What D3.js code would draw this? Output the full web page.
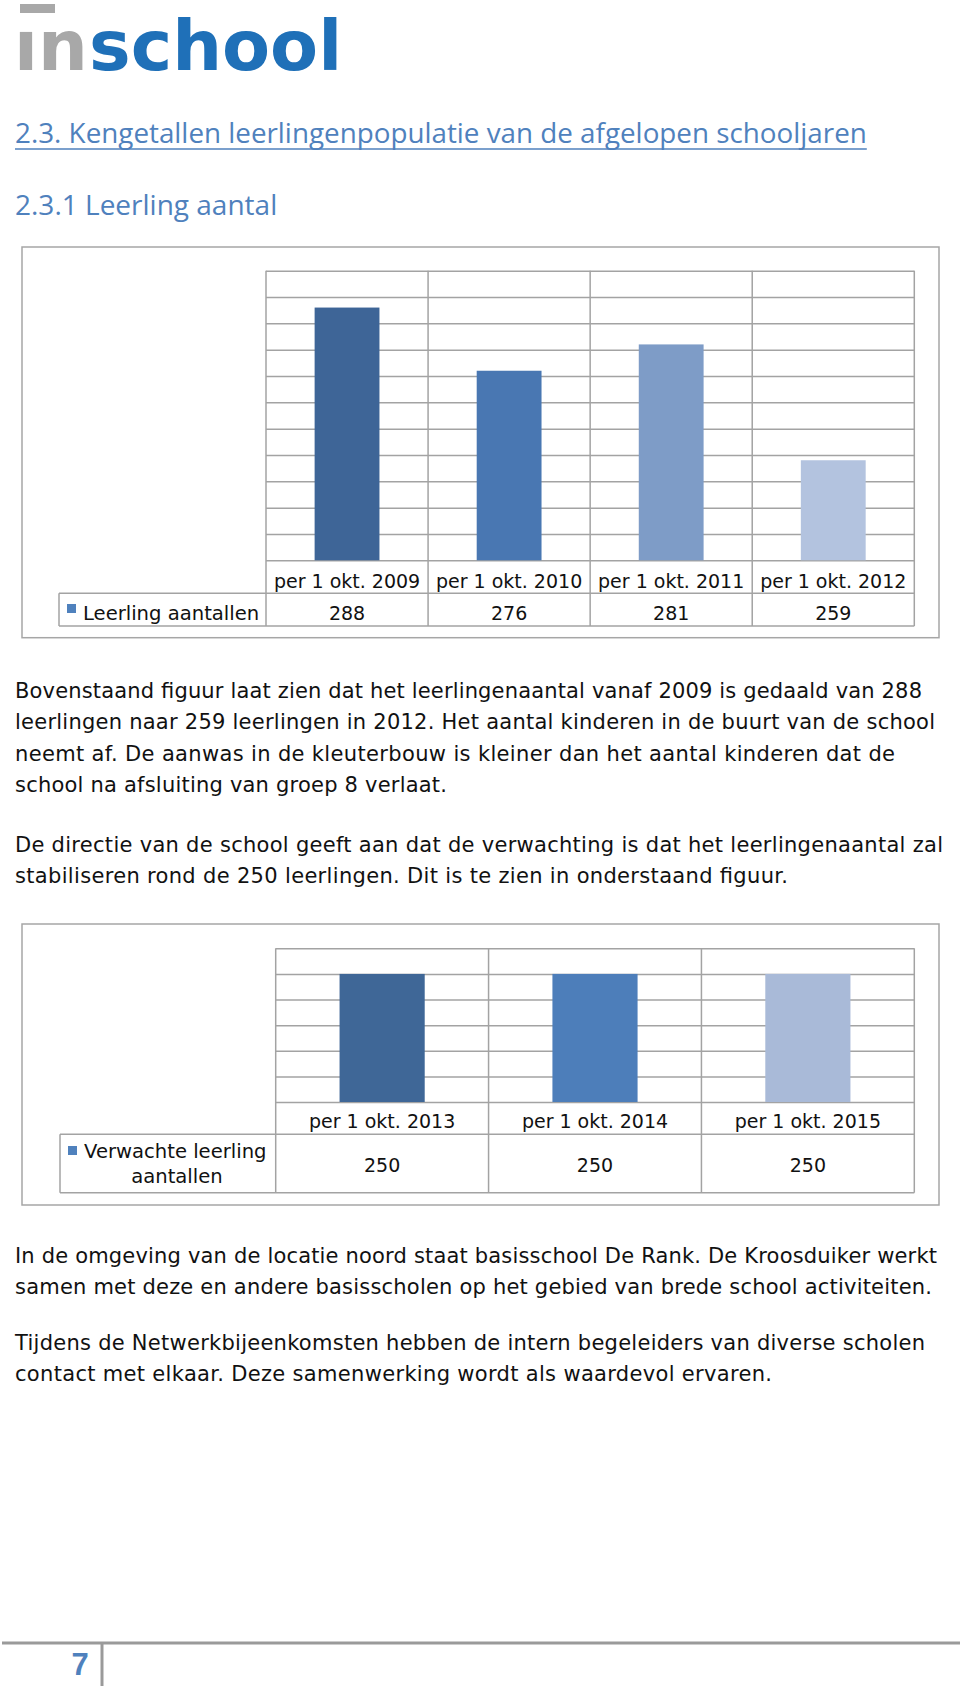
<!DOCTYPE html>
<html><head><meta charset="utf-8">
<script src="https://cdn.jsdelivr.net/npm/d3@7/dist/d3.min.js"></script>
<style>
html,body{margin:0;padding:0;background:#fff;}
svg{display:block;}
text{font-family:"DejaVu Sans",sans-serif;}
</style></head>
<body>
<svg id="page" width="960" height="1688"></svg>
<script>
// ---------- data ----------
const categories1 = ["per 1 okt. 2009", "per 1 okt. 2010", "per 1 okt. 2011", "per 1 okt. 2012"];
const values1 = [288, 276, 281, 259];
const series1 = "Leerling aantallen";
const colors1 = ["#3E6597", "#4977B2", "#7E9CC7", "#B3C3DF"];
const yDomain1 = [240, 295];

const categories2 = ["per 1 okt. 2013", "per 1 okt. 2014", "per 1 okt. 2015"];
const values2 = [250, 250, 250];
const series2 = ["Verwachte leerling", "aantallen"];
const colors2 = ["#3F6797", "#4D7EBA", "#A9BAD8"];
const yDomain2 = [0, 300];

const heading1 = "2.3. Kengetallen leerlingenpopulatie van de afgelopen schooljaren";
const heading2 = "2.3.1 Leerling aantal";
const para1 = [
  "Bovenstaand figuur laat zien dat het leerlingenaantal vanaf 2009 is gedaald van 288",
  "leerlingen naar 259 leerlingen in 2012. Het aantal kinderen in de buurt van de school",
  "neemt af. De aanwas in de kleuterbouw is kleiner dan het aantal kinderen dat de",
  "school na afsluiting van groep 8 verlaat."
];
const para2 = [
  "De directie van de school geeft aan dat de verwachting is dat het leerlingenaantal zal",
  "stabiliseren rond de 250 leerlingen. Dit is te zien in onderstaand figuur."
];
const para3 = [
  "In de omgeving van de locatie noord staat basisschool De Rank. De Kroosduiker werkt",
  "samen met deze en andere basisscholen op het gebied van brede school activiteiten."
];
const para4 = [
  "Tijdens de Netwerkbijeenkomsten hebben de intern begeleiders van diverse scholen",
  "contact met elkaar. Deze samenwerking wordt als waardevol ervaren."
];
const pageNumber = "7";

// ---------- page ----------
const svg = d3.select("#page");
const GRID = "#A3A3A3";
const BLUE = "#4F81BD";

// logo
svg.append("rect").attr("x", 20).attr("y", 4).attr("width", 35).attr("height", 9).attr("fill", "#A8A8A8");
svg.append("text").attr("x", 14).attr("y", 70).attr("font-size", 70).attr("font-weight", "bold")
  .attr("fill", "#A8A8A8").text("\u0131n");
svg.append("text").attr("x", 89).attr("y", 70).attr("font-size", 70).attr("font-weight", "bold")
  .attr("fill", "#1F70B8").text("school");

// headings
const h1 = svg.append("text").attr("x", 15).attr("y", 143).attr("font-size", 27.8)
  .style("font-family", "'Open Sans', sans-serif").attr("fill", BLUE).text(heading1);
const h1w = h1.node().getComputedTextLength();
svg.append("line").attr("x1", 15).attr("x2", 15 + h1w).attr("y1", 149).attr("y2", 149)
  .attr("stroke", BLUE).attr("stroke-width", 1.5);
svg.append("text").attr("x", 15).attr("y", 215).attr("font-size", 28)
  .style("font-family", "'Open Sans', sans-serif").attr("fill", BLUE).text(heading2);

// body text; line end positions measured from the page layout
function para(lines, y0, step, ends) {
  lines.forEach((t, i) => {
    const el = svg.append("text").attr("x", 15).attr("y", y0 + i * step).attr("font-size", 21)
      .attr("fill", "#111").text(t);
    const w = el.node().getComputedTextLength();
    const target = ends[i] - 15;
    if (Math.abs(w - target) > 1) el.attr("textLength", target).attr("lengthAdjust", "spacing");
  });
}
para(para1, 698, 31.3, [922, 935, 895, 447]);
para(para2, 852, 31, [943, 788]);
para(para3, 1263, 31, [937, 932]);
para(para4, 1350, 31, [925, 772]);

// footer
svg.append("line").attr("x1", 2).attr("x2", 960).attr("y1", 1643).attr("y2", 1643)
  .attr("stroke", "#9A9A9A").attr("stroke-width", 3);
svg.append("line").attr("x1", 102).attr("x2", 102).attr("y1", 1643).attr("y2", 1686)
  .attr("stroke", "#9A9A9A").attr("stroke-width", 3);
svg.append("text").attr("x", 80).attr("y", 1675).attr("font-size", 31).attr("font-weight", "bold")
  .style("font-family", "'Liberation Sans', Arial, sans-serif")
  .attr("text-anchor", "middle").attr("fill", BLUE).text(pageNumber);

// ---------- chart builder ----------
function chart(o) {
  const g = svg.append("g");
  g.append("rect").attr("x", o.box[0]).attr("y", o.box[1])
    .attr("width", o.box[2] - o.box[0]).attr("height", o.box[3] - o.box[1])
    .attr("fill", "#fff").attr("stroke", "#A6A6A6").attr("stroke-width", 1.5);

  const cell = d3.scaleBand().domain(o.cats).range([o.left, o.right]);
  const xb = d3.scaleBand().domain(o.cats).range([o.left, o.right]).paddingInner(0.6).paddingOuter(0.3);
  const y = d3.scaleLinear().domain(o.domain).range([o.bottom, o.top]);

  const ax = g.append("g").attr("transform", `translate(${o.left},0)`)
    .call(d3.axisLeft(y).ticks(o.ticks).tickSizeInner(-(o.right - o.left)).tickSizeOuter(0).tickFormat(""));
  ax.select(".domain").remove();
  ax.selectAll(".tick line").attr("stroke", GRID).attr("stroke-width", 1.5);

  g.selectAll("rect.bar").data(o.vals).join("rect").attr("class", "bar")
    .attr("x", (d, i) => xb(o.cats[i])).attr("width", xb.bandwidth())
    .attr("y", d => y(d)).attr("height", d => y(o.domain[0]) - y(d))
    .attr("fill", (d, i) => o.colors[i]);

  const xs = o.cats.map(c => cell(c)).concat([o.right]);
  g.selectAll("line.v").data(xs).join("line").attr("class", "v")
    .attr("x1", d => d).attr("x2", d => d).attr("y1", o.top).attr("y2", o.tableBottom)
    .attr("stroke", GRID).attr("stroke-width", 1.5);
  g.append("line").attr("x1", o.legendLeft).attr("x2", o.right).attr("y1", o.rowTop).attr("y2", o.rowTop)
    .attr("stroke", GRID).attr("stroke-width", 1.5);
  g.append("line").attr("x1", o.legendLeft).attr("x2", o.right).attr("y1", o.tableBottom).attr("y2", o.tableBottom)
    .attr("stroke", GRID).attr("stroke-width", 1.5);
  g.append("line").attr("x1", o.legendLeft).attr("x2", o.legendLeft).attr("y1", o.rowTop).attr("y2", o.tableBottom)
    .attr("stroke", GRID).attr("stroke-width", 1.5);

  g.selectAll("text.cat").data(o.cats).join("text").attr("class", "cat")
    .attr("x", d => cell(d) + cell.bandwidth() / 2).attr("y", o.catBase)
    .attr("text-anchor", "middle").attr("font-size", o.fs).attr("fill", "#111").text(d => d);
  g.selectAll("text.val").data(o.vals).join("text").attr("class", "val")
    .attr("x", (d, i) => cell(o.cats[i]) + cell.bandwidth() / 2).attr("y", o.valBase)
    .attr("text-anchor", "middle").attr("font-size", o.fs).attr("fill", "#111").text(d => d);

  g.append("rect").attr("x", o.sq[0]).attr("y", o.sq[1]).attr("width", 9).attr("height", 9).attr("fill", BLUE);
  o.legend.forEach((t, i) => {
    g.append("text").attr("x", o.legX[i]).attr("y", o.legBase[i])
      .attr("text-anchor", o.legAnchor[i]).attr("font-size", o.legFs).attr("fill", "#111").text(t);
  });
}

chart({
  cats: categories1, vals: values1, colors: colors1, domain: yDomain1, ticks: 11,
  box: [22, 247, 939, 637.7],
  left: 266, right: 914.3, top: 270.7, bottom: 560.3,
  rowTop: 593.3, tableBottom: 626, legendLeft: 59,
  catBase: 588, valBase: 620, fs: 19, legFs: 19.6,
  sq: [67, 604], legend: [series1], legX: [83], legBase: [620], legAnchor: ["start"]
});

chart({
  cats: categories2, vals: values2, colors: colors2, domain: yDomain2, ticks: 6,
  box: [22, 924, 939, 1205],
  left: 275.7, right: 914.3, top: 948.3, bottom: 1102,
  rowTop: 1134.3, tableBottom: 1192.7, legendLeft: 60,
  catBase: 1128, valBase: 1172, fs: 19, legFs: 19.6,
  sq: [68, 1146], legend: series2, legX: [84, 177], legBase: [1158, 1183], legAnchor: ["start", "middle"]
});
</script>
</body></html>
